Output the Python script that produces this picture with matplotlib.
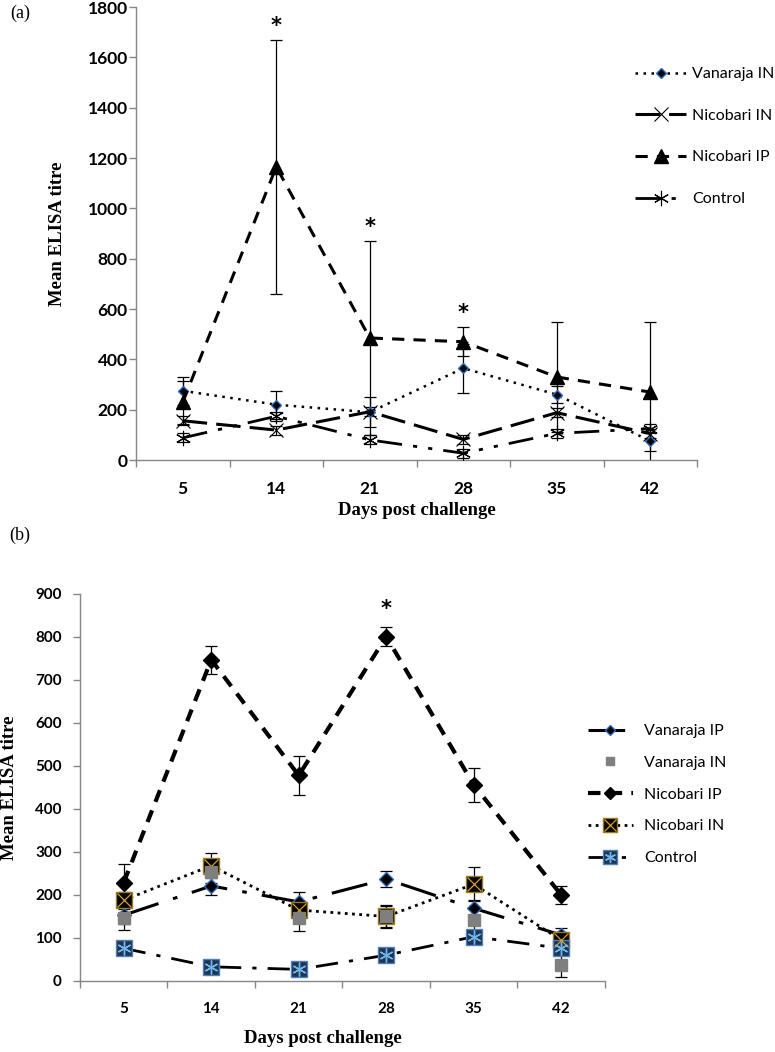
import matplotlib
matplotlib.use("Agg")
from matplotlib import pyplot as plt
from matplotlib.legend_handler import HandlerTuple
from matplotlib.font_manager import FontProperties
import numpy as np

days = ["5", "14", "21", "28", "35", "42"]

# panel (a)
a_vanaraja_in = [275, 220, 190, 365, 260, 75]
a_vanaraja_in_err = [55, 55, 60, 98, 35, 38]
a_nicobari_in = [156, 119, 192, 82, 188, 105]
a_nicobari_in_err = [18, 18, 18, 18, 18, 18]
a_nicobari_ip = [230, 1165, 485, 470, 330, 270]
a_nicobari_ip_err = [85, 505, 385, 58, 220, 280]
a_control = [88, 174, 80, 27, 106, 125]
a_control_err = [18, 18, 18, 18, 18, 18]
a_stars = [1, 2, 3]

# panel (b)
b_vanaraja_ip = [153, 221, 184, 237, 169, 107]
b_vanaraja_ip_err = [20, 20, 24, 19, 20, 16]
b_vanaraja_in = [146, 254, 146, 150, 142, 37]
b_vanaraja_in_err = [28, 25, 30, 27, 25, 27]
b_nicobari_ip = [229, 747, 478, 801, 456, 200]
b_nicobari_ip_err = [43, 32, 45, 23, 40, 22]
b_nicobari_in = [188, 268, 165, 150, 225, 95]
b_nicobari_in_err = [20, 29, 20, 24, 39, 20]
b_control = [76, 33, 27, 60, 103, 76]
b_control_err = [8, 8, 8, 8, 8, 8]
b_stars = [3]

grey = "#868686"
label_font = {"family": "Liberation Serif", "weight": "bold", "size": 13.5}

x = np.arange(len(days)) + 0.5


def style_axes(ax, ymax, ystep, ypad, fsize):
    ax.set_xlim(0, len(days))
    ax.set_ylim(0, ymax)
    ax.set_yticks(np.arange(0, ymax + 1, ystep))
    ax.set_xticks(np.arange(len(days) + 1))
    ax.set_xticklabels([])
    ax.set_xticks(x, minor=True)
    ax.set_xticklabels(days, minor=True)
    ax.tick_params(axis="x", which="major", length=5, color=grey, width=1)
    ax.tick_params(axis="x", which="minor", length=0, pad=15)
    ax.tick_params(axis="y", length=5, color=grey, width=1, pad=ypad)
    for side in ["top", "right"]:
        ax.spines[side].set_visible(False)
    for side in ["left", "bottom"]:
        ax.spines[side].set_color(grey)
        ax.spines[side].set_linewidth(1)
    fp = FontProperties(family="Lato", weight="bold", size=fsize)
    for lab in ax.get_xticklabels(minor=True) + ax.get_yticklabels():
        lab.set_fontproperties(fp)


def errs(ax, y, e):
    ax.errorbar(x, y, yerr=e, fmt="none", ecolor="black", elinewidth=0.9,
                capsize=4, capthick=0.9, zorder=2)


def stars(ax, y, e, idx, off):
    for i in idx:
        ax.annotate("*", xy=(x[i], y[i] + e[i]), xytext=(0, off),
                    textcoords="offset points", ha="center", va="center",
                    fontsize=15, fontweight="bold", family="DejaVu Sans")


fig = plt.figure(figsize=(7.75, 10.52), dpi=100)
ax_a = fig.add_axes([0.1755, 0.5627, 0.7239, 0.4306])
ax_b = fig.add_axes([0.1032, 0.0675, 0.6774, 0.3679])

# ---- panel (a)
errs(ax_a, a_nicobari_ip, a_nicobari_ip_err)
errs(ax_a, a_vanaraja_in, a_vanaraja_in_err)
errs(ax_a, a_nicobari_in, a_nicobari_in_err)
errs(ax_a, a_control, a_control_err)

l1, = ax_a.plot(x, a_vanaraja_in, color="black", lw=1.8, linestyle=(0, (1, 2.2)),
                marker="D", markersize=5, markerfacecolor="black",
                markeredgecolor="#2E6BC0", markeredgewidth=1, label="Vanaraja IN", zorder=3)
l2, = ax_a.plot(x, a_nicobari_in, color="black", lw=2.2, linestyle=(0, (8, 3)),
                marker="x", markersize=10, markeredgewidth=0.8,
                label="Nicobari IN", zorder=3)
l3, = ax_a.plot(x, a_nicobari_ip, color="black", lw=2.2, linestyle=(0, (4, 3)),
                marker="^", markersize=10, label="Nicobari IP", zorder=4)
l4, = ax_a.plot(x, a_control, color="black", lw=2, linestyle=(0, (9, 4, 1.5, 4, 1.5, 4)),
                marker=(6, 2, 0), markersize=11, markeredgewidth=0.8,
                label="Control", zorder=3)
stars(ax_a, a_nicobari_ip, a_nicobari_ip_err, a_stars, 10)

style_axes(ax_a, 1800, 200, 1, 12.5)
ax_a.set_xlabel("Days post challenge", fontdict=label_font)
ax_a.xaxis.set_label_coords(0.5, -0.092)
ax_a.set_ylabel("Mean ELISA titre", fontdict=label_font)
ax_a.yaxis.set_label_coords(-0.125, 0.5)

ax_a.legend(handles=[l1, l2, l3, l4], loc="upper left",
            bbox_to_anchor=(635 / 775, 1 - 67 / 1052), bbox_transform=fig.transFigure,
            frameon=False, prop={"family": "Lato", "size": 11.5},
            handlelength=3.2, handletextpad=0.4, labelspacing=1.72,
            borderpad=0, borderaxespad=0)

fig.text(20 / 775, 1 - 13 / 1052, "(a)", family="Liberation Serif", fontsize=13,
         ha="center", va="center")

# ---- panel (b)
errs(ax_b, b_nicobari_ip, b_nicobari_ip_err)
errs(ax_b, b_vanaraja_ip, b_vanaraja_ip_err)
errs(ax_b, b_vanaraja_in, b_vanaraja_in_err)
errs(ax_b, b_nicobari_in, b_nicobari_in_err)
errs(ax_b, b_control, b_control_err)

m1, = ax_b.plot(x, b_vanaraja_ip, color="black", lw=2.2, linestyle=(0, (12, 5, 1.5, 5)),
                marker="D", markersize=7, markerfacecolor="black",
                markeredgecolor="#2E6BC0", markeredgewidth=1, label="Vanaraja IP", zorder=3)
m2, = ax_b.plot(x, b_vanaraja_in, linestyle="none", marker="s", markersize=8,
                color="#7F7F7F", label="Vanaraja IN", zorder=4)
m3, = ax_b.plot(x, b_nicobari_ip, color="black", lw=3, linestyle=(0, (3, 2.2)),
                marker="D", markersize=8, label="Nicobari IP", zorder=3)
m4, = ax_b.plot(x, b_nicobari_in, color="black", lw=2, linestyle=(0, (1, 1.6)),
                marker="s", markersize=12, markerfacecolor="black",
                markeredgecolor="#9A7A20", markeredgewidth=1, label="Nicobari IN", zorder=3)
m4x, = ax_b.plot(x, b_nicobari_in, linestyle="none", marker="x", markersize=10,
                 markeredgecolor="#D9A020", markeredgewidth=0.9, zorder=3.1)
m5, = ax_b.plot(x, b_control, color="black", lw=2, linestyle=(0, (8, 4, 1.5, 4)),
                marker="s", markersize=12, markerfacecolor="#1F3550",
                markeredgecolor="#4F81BD", markeredgewidth=1, label="Control", zorder=3)
m5x, = ax_b.plot(x, b_control, linestyle="none", marker=(6, 2, 0), markersize=10,
                 markeredgecolor="#6FB6F0", markeredgewidth=1, zorder=3.1)
stars(ax_b, b_nicobari_ip, b_nicobari_ip_err, b_stars, 13)

style_axes(ax_b, 900, 100, 8, 11)
ax_b.set_xlabel("Days post challenge", fontdict=label_font)
ax_b.xaxis.set_label_coords(0.463, -0.127)
ax_b.set_ylabel("Mean ELISA titre", fontdict=label_font)
ax_b.yaxis.set_label_coords(-0.118, 0.5)

ax_b.legend(handles=[m1, m2, m3, (m4, m4x), (m5, m5x)],
            labels=["Vanaraja IP", "Vanaraja IN", "Nicobari IP", "Nicobari IN", "Control"],
            handler_map={tuple: HandlerTuple(ndivide=1)},
            loc="upper left",
            bbox_to_anchor=(588 / 775, 1 - 724 / 1052), bbox_transform=fig.transFigure,
            frameon=False, prop={"family": "Lato", "size": 11.5},
            handlelength=2.8, handletextpad=0.7, labelspacing=1.1,
            borderpad=0, borderaxespad=0, markerscale=0.8)

fig.text(20 / 775, 1 - 535 / 1052, "(b)", family="Liberation Serif", fontsize=13,
         ha="center", va="center")

fig.savefig("out.png", dpi=100)
